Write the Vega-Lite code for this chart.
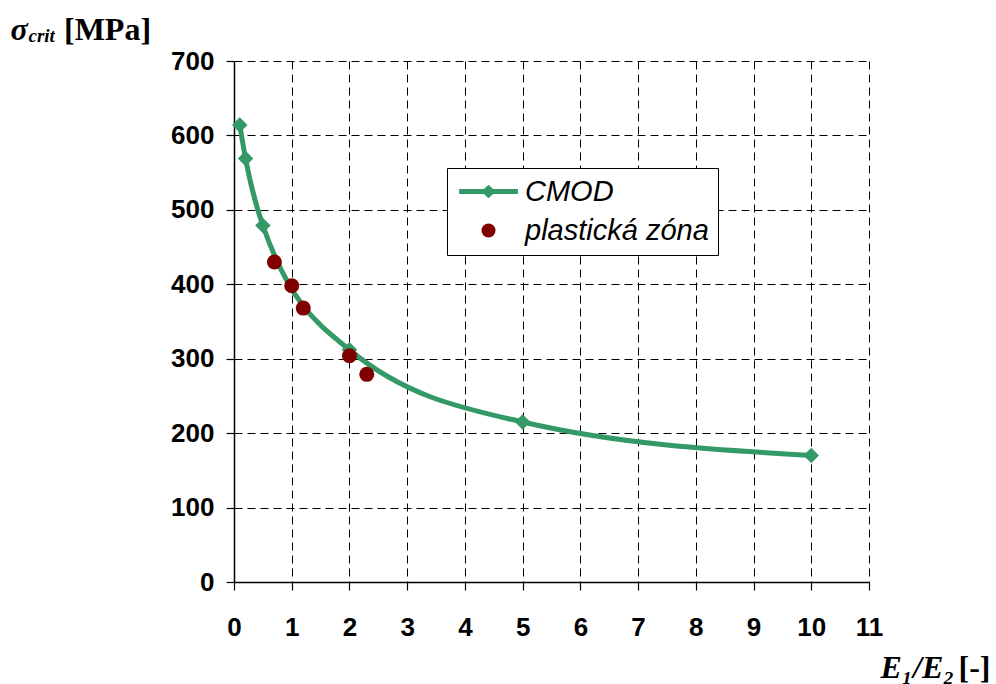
{
  "$schema": "https://vega.github.io/schema/vega-lite/v6.json",
  "width": 635,
  "height": 521,
  "autosize": "none",
  "padding": {"left": 234, "top": 61, "right": 127, "bottom": 102},
  "background": "white",
  "title": {
    "text": "[MPa]",
    "anchor": "start",
    "frame": "group",
    "orient": "top",
    "baseline": "alphabetic",
    "offset": 20,
    "dx": -170,
    "dy": 79,
    "font": "Liberation Serif",
    "fontWeight": "bold",
    "fontSize": 32,
    "color": "black"
  },
  "config": {
    "view": {"stroke": null},
    "axis": {
      "labelFont": "Liberation Sans",
      "labelFontWeight": "bold",
      "labelFontSize": 26,
      "labelColor": "black",
      "domainColor": "black",
      "domainWidth": 1.5,
      "tickColor": "black",
      "tickWidth": 1.2,
      "tickSize": 8,
      "gridColor": "black",
      "gridDash": [8, 5],
      "gridWidth": 1,
      "gridOpacity": 1,
      "titleFont": "Liberation Serif",
      "titleFontWeight": "bold",
      "titleFontSize": 32,
      "titleColor": "black"
    }
  },
  "data": {
    "values": [
      {"series": "CMOD", "x": 0.1, "y": 614},
      {"series": "CMOD", "x": 0.2, "y": 569},
      {"series": "CMOD", "x": 0.5, "y": 479},
      {"series": "CMOD", "x": 2, "y": 312},
      {"series": "CMOD", "x": 5, "y": 215},
      {"series": "CMOD", "x": 10, "y": 170},
      {"series": "plastická zóna", "x": 0.7, "y": 430},
      {"series": "plastická zóna", "x": 1.0, "y": 398},
      {"series": "plastická zóna", "x": 1.2, "y": 368},
      {"series": "plastická zóna", "x": 2.0, "y": 304},
      {"series": "plastická zóna", "x": 2.3, "y": 279}
    ]
  },
  "resolve": {"axis": {"x": "independent", "y": "independent"}},
  "layer": [
    {
      "transform": [{"filter": "datum.series === 'CMOD'"}],
      "mark": {"type": "line", "interpolate": "monotone", "color": "#339966", "strokeWidth": 5},
      "encoding": {
        "x": {
          "field": "x",
          "type": "quantitative",
          "scale": {"domain": [0, 11], "nice": false, "zero": false},
          "axis": {
            "orient": "bottom",
            "grid": true,
            "values": [0, 1, 2, 3, 4, 5, 6, 7, 8, 9, 10, 11],
            "labelPadding": 24,
            "labelFlush": false,
            "title": "E₁/E₂",
            "titleFontStyle": "italic",
            "titleAlign": "left",
            "titleAnchor": "start",
            "titleBaseline": "alphabetic",
            "titleX": 646,
            "titleY": 95
          }
        },
        "y": {
          "field": "y",
          "type": "quantitative",
          "scale": {"domain": [0, 700], "nice": false},
          "axis": {
            "orient": "left",
            "grid": true,
            "values": [0, 100, 200, 300, 400, 500, 600, 700],
            "labelPadding": 12,
            "labelFlush": false,
            "title": "σ",
            "titleFontStyle": "italic",
            "titleAngle": 0,
            "titleAlign": "left",
            "titleAnchor": "start",
            "titleBaseline": "alphabetic",
            "titleX": -224,
            "titleY": -22
          }
        }
      }
    },
    {
      "transform": [{"filter": "datum.series === 'CMOD'"}],
      "mark": {"type": "point", "filled": true, "shape": "diamond", "size": 240, "opacity": 1, "strokeWidth": 0, "color": "#339966"},
      "encoding": {
        "x": {
          "field": "x",
          "type": "quantitative",
          "scale": {"domain": [0, 11], "nice": false, "zero": false},
          "axis": {
            "orient": "top",
            "grid": false,
            "labels": false,
            "ticks": false,
            "domain": false,
            "title": "[-]",
            "titleFontStyle": "normal",
            "titleAlign": "left",
            "titleAnchor": "start",
            "titleBaseline": "alphabetic",
            "titleX": 724,
            "titleY": 616
          }
        },
        "y": {
          "field": "y",
          "type": "quantitative",
          "scale": {"domain": [0, 700], "nice": false},
          "axis": {
            "orient": "right",
            "grid": false,
            "labels": false,
            "ticks": false,
            "domain": false,
            "title": "crit",
            "titleFontStyle": "italic",
            "titleFontSize": 19,
            "titleAngle": 0,
            "titleAlign": "left",
            "titleAnchor": "start",
            "titleBaseline": "alphabetic",
            "titleX": -841,
            "titleY": -20
          }
        }
      }
    },
    {
      "transform": [{"filter": "datum.series !== 'CMOD'"}],
      "mark": {"type": "point", "filled": true, "shape": "circle", "size": 225, "opacity": 1, "strokeWidth": 0, "color": "#800000"},
      "encoding": {
        "x": {"field": "x", "type": "quantitative", "scale": {"domain": [0, 11], "nice": false, "zero": false}, "axis": null},
        "y": {"field": "y", "type": "quantitative", "scale": {"domain": [0, 700], "nice": false}, "axis": null}
      }
    },
    {
      "transform": [{"filter": "false"}],
      "mark": {"type": "point", "filled": true, "size": 196, "opacity": 1, "strokeWidth": 0},
      "encoding": {
        "x": {"field": "x", "type": "quantitative", "scale": {"domain": [0, 11], "nice": false, "zero": false}, "axis": null},
        "y": {"field": "y", "type": "quantitative", "scale": {"domain": [0, 700], "nice": false}, "axis": null},
        "color": {
          "field": "series",
          "type": "nominal",
          "scale": {"domain": ["CMOD", "plastická zóna"], "range": ["#339966", "#800000"]},
          "legend": {
            "title": null,
            "orient": "none",
            "legendX": 213,
            "legendY": 107,
            "fillColor": "white",
            "strokeColor": "black",
            "padding": 9,
            "labelFont": "Liberation Sans",
            "labelFontStyle": "italic",
            "labelFontSize": 29,
            "labelColor": "black",
            "labelLimit": 400,
            "symbolSize": 196,
            "symbolOffset": 18,
            "symbolStrokeWidth": 0,
            "labelOffset": 22,
            "rowPadding": 9
          }
        },
        "shape": {
          "field": "series",
          "type": "nominal",
          "scale": {"domain": ["CMOD", "plastická zóna"], "range": ["M-4.2,-0.36L4.2,-0.36L4.2,0.36L-4.2,0.36Z M-1.05,0L0,-0.95L1.05,0L0,0.95Z", "circle"]}
        }
      }
    }
  ]
}
